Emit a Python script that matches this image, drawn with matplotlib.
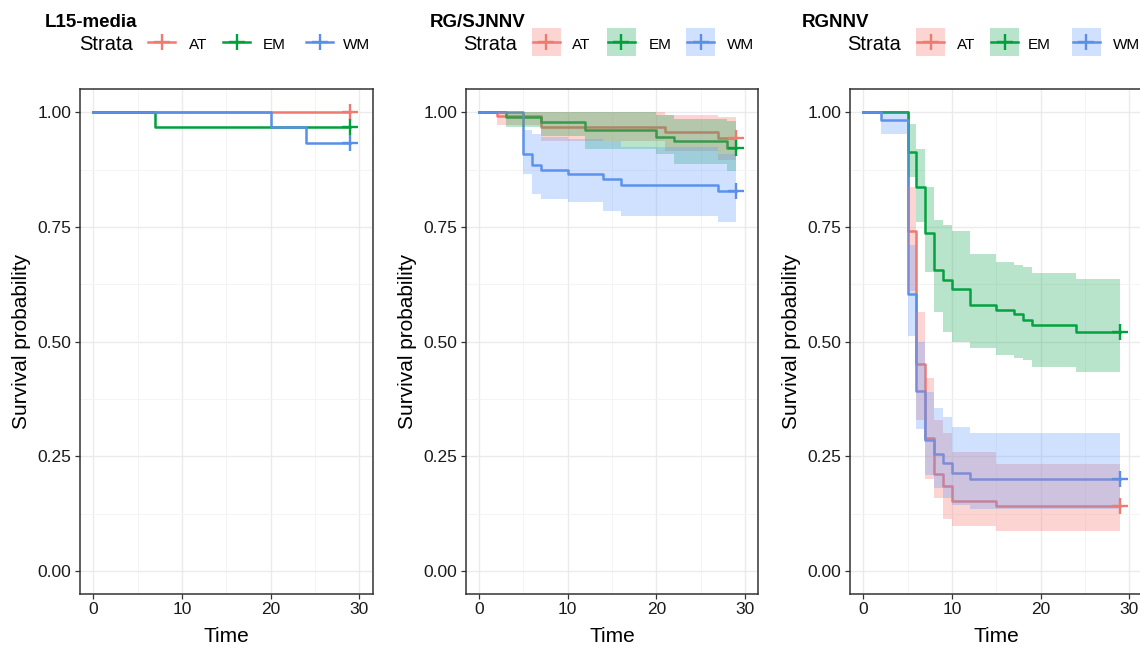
import numpy as np
import matplotlib
matplotlib.use("Agg")
import matplotlib.pyplot as plt
from matplotlib.patches import Rectangle
from matplotlib.lines import Line2D

plt.rcParams['font.family'] = ['Liberation Sans', 'DejaVu Sans']

# ---------------- data ----------------
strata = ["AT", "EM", "WM"]
panel_titles = ["L15-media", "RG/SJNNV", "RGNNV"]
t_end = 29

# Panel 1: L15-media (no confidence bands)
p1_AT_t = [0]
p1_AT_s = [1.0]
p1_EM_t = [0, 7]
p1_EM_s = [1.0, 0.967]
p1_WM_t = [0, 20, 24]
p1_WM_s = [1.0, 0.967, 0.933]

# Panel 2: RG/SJNNV
p2_AT_t = [0, 2, 7, 21, 27]
p2_AT_s = [1.0, 0.991, 0.968, 0.958, 0.944]
p2_AT_hi = [1.0, 1.0, 1.0, 0.995, 0.99]
p2_AT_lo = [1.0, 0.972, 0.938, 0.915, 0.895]

p2_EM_t = [0, 3, 7, 12, 20, 22, 28]
p2_EM_s = [1.0, 0.99, 0.979, 0.961, 0.947, 0.937, 0.922]
p2_EM_hi = [1.0, 1.0, 1.0, 1.0, 0.995, 0.985, 0.98]
p2_EM_lo = [1.0, 0.968, 0.949, 0.92, 0.909, 0.887, 0.873]

p2_WM_t = [0, 5, 6, 7, 10, 14, 16, 27]
p2_WM_s = [1.0, 0.908, 0.885, 0.874, 0.865, 0.854, 0.842, 0.829]
p2_WM_hi = [1.0, 0.962, 0.952, 0.946, 0.942, 0.937, 0.925, 0.909]
p2_WM_lo = [1.0, 0.865, 0.822, 0.811, 0.804, 0.785, 0.774, 0.76]

# Panel 3: RGNNV
p3_AT_t = [0, 5, 6, 7, 8, 9, 10, 15]
p3_AT_s = [1.0, 0.742, 0.451, 0.29, 0.211, 0.185, 0.153, 0.142]
p3_AT_hi = [1.0, 0.836, 0.565, 0.42, 0.33, 0.30, 0.26, 0.233]
p3_AT_lo = [1.0, 0.61, 0.33, 0.2, 0.16, 0.113, 0.098, 0.088]

p3_EM_t = [0, 5, 6, 7, 8, 9, 10, 12, 15, 17, 18, 19, 24]
p3_EM_s = [1.0, 0.914, 0.836, 0.737, 0.657, 0.635, 0.615, 0.580, 0.569, 0.560, 0.547, 0.537, 0.52]
p3_EM_hi = [1.0, 0.974, 0.92, 0.836, 0.765, 0.755, 0.742, 0.691, 0.673, 0.668, 0.662, 0.649, 0.636]
p3_EM_lo = [1.0, 0.858, 0.76, 0.651, 0.564, 0.52, 0.50, 0.487, 0.47, 0.465, 0.46, 0.445, 0.433]

p3_WM_t = [0, 2, 5, 6, 7, 8, 9, 10, 12]
p3_WM_s = [1.0, 0.982, 0.604, 0.393, 0.286, 0.255, 0.236, 0.213, 0.20]
p3_WM_hi = [1.0, 1.0, 0.71, 0.50, 0.39, 0.356, 0.335, 0.313, 0.30]
p3_WM_lo = [1.0, 0.953, 0.513, 0.31, 0.21, 0.18, 0.16, 0.145, 0.135]

x_ticks = [0, 10, 20, 30]
y_ticks = [0.0, 0.25, 0.50, 0.75, 1.00]
y_ticklabels = ["0.00", "0.25", "0.50", "0.75", "1.00"]

line_colors = {"AT": "#EE7A70", "EM": "#00A03C", "WM": "#5B8FE6"}
fill_colors = {"AT": "#F8766D", "EM": "#12A850", "WM": "#619CFF"}

panels = [
    {"AT": (p1_AT_t, p1_AT_s, None, None),
     "EM": (p1_EM_t, p1_EM_s, None, None),
     "WM": (p1_WM_t, p1_WM_s, None, None)},
    {"AT": (p2_AT_t, p2_AT_s, p2_AT_hi, p2_AT_lo),
     "EM": (p2_EM_t, p2_EM_s, p2_EM_hi, p2_EM_lo),
     "WM": (p2_WM_t, p2_WM_s, p2_WM_hi, p2_WM_lo)},
    {"AT": (p3_AT_t, p3_AT_s, p3_AT_hi, p3_AT_lo),
     "EM": (p3_EM_t, p3_EM_s, p3_EM_hi, p3_EM_lo),
     "WM": (p3_WM_t, p3_WM_s, p3_WM_hi, p3_WM_lo)},
]

# ---------------- layout (pixels) ----------------
W, H = 1140, 649
fig = plt.figure(figsize=(W / 100, H / 100), dpi=100)
fig.patch.set_facecolor("white")

ax_left_px = [80, 465.7, 850]
ax_w_px = 292.5
ax_top_px = 89.3
ax_bot_px = 594

title_x_px = [45, 430, 801.7]
strata_x_px = [79, 463.3, 847.3]
key_x_px = [[147, 222, 305], [531.7, 606.7, 686], [916, 990, 1071.7]]
key_w_px = 29
label_x_px = [[189, 263, 343], [571.7, 648.3, 726.7], [956.7, 1028, 1113]]


def fx(px):
    return px / W


def fy(py):
    return 1 - py / H


def ext(t, v):
    return np.append(np.asarray(t, float), t_end), np.append(np.asarray(v, float), v[-1])


for i, data in enumerate(panels):
    ax = fig.add_axes([fx(ax_left_px[i]), fy(ax_bot_px),
                       ax_w_px / W, (ax_bot_px - ax_top_px) / H])
    ax.set_xlim(-1.5, 31.5)
    ax.set_ylim(-0.05, 1.05)
    ax.set_xticks(x_ticks)
    ax.set_yticks(y_ticks)
    ax.set_yticklabels(y_ticklabels)
    ax.set_xticks([5, 15, 25], minor=True)
    ax.set_yticks([0.125, 0.375, 0.625, 0.875], minor=True)
    ax.grid(which="major", color="#EBEBEB", lw=1.0, zorder=0)
    ax.grid(which="minor", color="#F3F3F3", lw=0.6, zorder=0)
    ax.set_axisbelow(True)
    ax.tick_params(which="minor", length=0)
    ax.tick_params(which="major", length=3.6, width=0.9, color="#333333",
                   labelsize=12.5, labelcolor="#1a1a1a", pad=2.5)
    for sp in ax.spines.values():
        sp.set_color("#333333")
        sp.set_linewidth(1.1)

    # survival curves
    for s in strata:
        t, sv, hi, lo = data[s]
        tt, ss = ext(t, sv)
        ax.step(tt, ss, where="post", color=line_colors[s], lw=1.8, zorder=3)
    # confidence bands on top
    for s in strata:
        t, sv, hi, lo = data[s]
        if hi is not None:
            tt, hh = ext(t, hi)
            _, ll = ext(t, lo)
            ax.fill_between(tt, ll, hh, step="post", color=fill_colors[s],
                            alpha=0.3, lw=0, zorder=4)
    # censor marks
    for s in strata:
        t, sv, hi, lo = data[s]
        ax.plot([t_end], [sv[-1]], marker="+", ms=11, mew=1.7,
                color=line_colors[s], ls="none", zorder=5)

    ax.set_xlabel("Time", fontsize=15)
    ax.xaxis.set_label_coords(0.5, -0.085)
    ax.xaxis.label.set_va("center")
    ax.set_ylabel("Survival probability", fontsize=15)
    ax.yaxis.set_label_coords(-0.2, 0.5)
    ax.yaxis.label.set_va("center")

    # titles and legends
    fig.text(fx(title_x_px[i]), fy(22.5), panel_titles[i], fontsize=13.5,
             fontweight="bold", ha="left", va="center")
    fig.text(fx(strata_x_px[i]), fy(44), "Strata", fontsize=14.5,
             ha="left", va="center")
    key_cy = 42
    for j, s in enumerate(strata):
        kx0 = key_x_px[i][j]
        if i > 0:
            fig.add_artist(Rectangle((fx(kx0), fy(key_cy + 14)), key_w_px / W,
                                     28 / H, transform=fig.transFigure,
                                     facecolor=fill_colors[s], alpha=0.3,
                                     edgecolor="none"))
        fig.add_artist(Line2D([fx(kx0 + 1), fx(kx0 + key_w_px - 1)],
                              [fy(key_cy), fy(key_cy)], transform=fig.transFigure,
                              color=line_colors[s], lw=1.8))
        fig.add_artist(Line2D([fx(kx0 + key_w_px / 2)], [fy(key_cy)],
                              transform=fig.transFigure, marker="+", ms=11,
                              mew=1.7, color=line_colors[s], ls="none"))
        fig.text(fx(label_x_px[i][j]), fy(45), s, fontsize=11,
                 ha="left", va="center")

fig.savefig("out.png", dpi=100)
